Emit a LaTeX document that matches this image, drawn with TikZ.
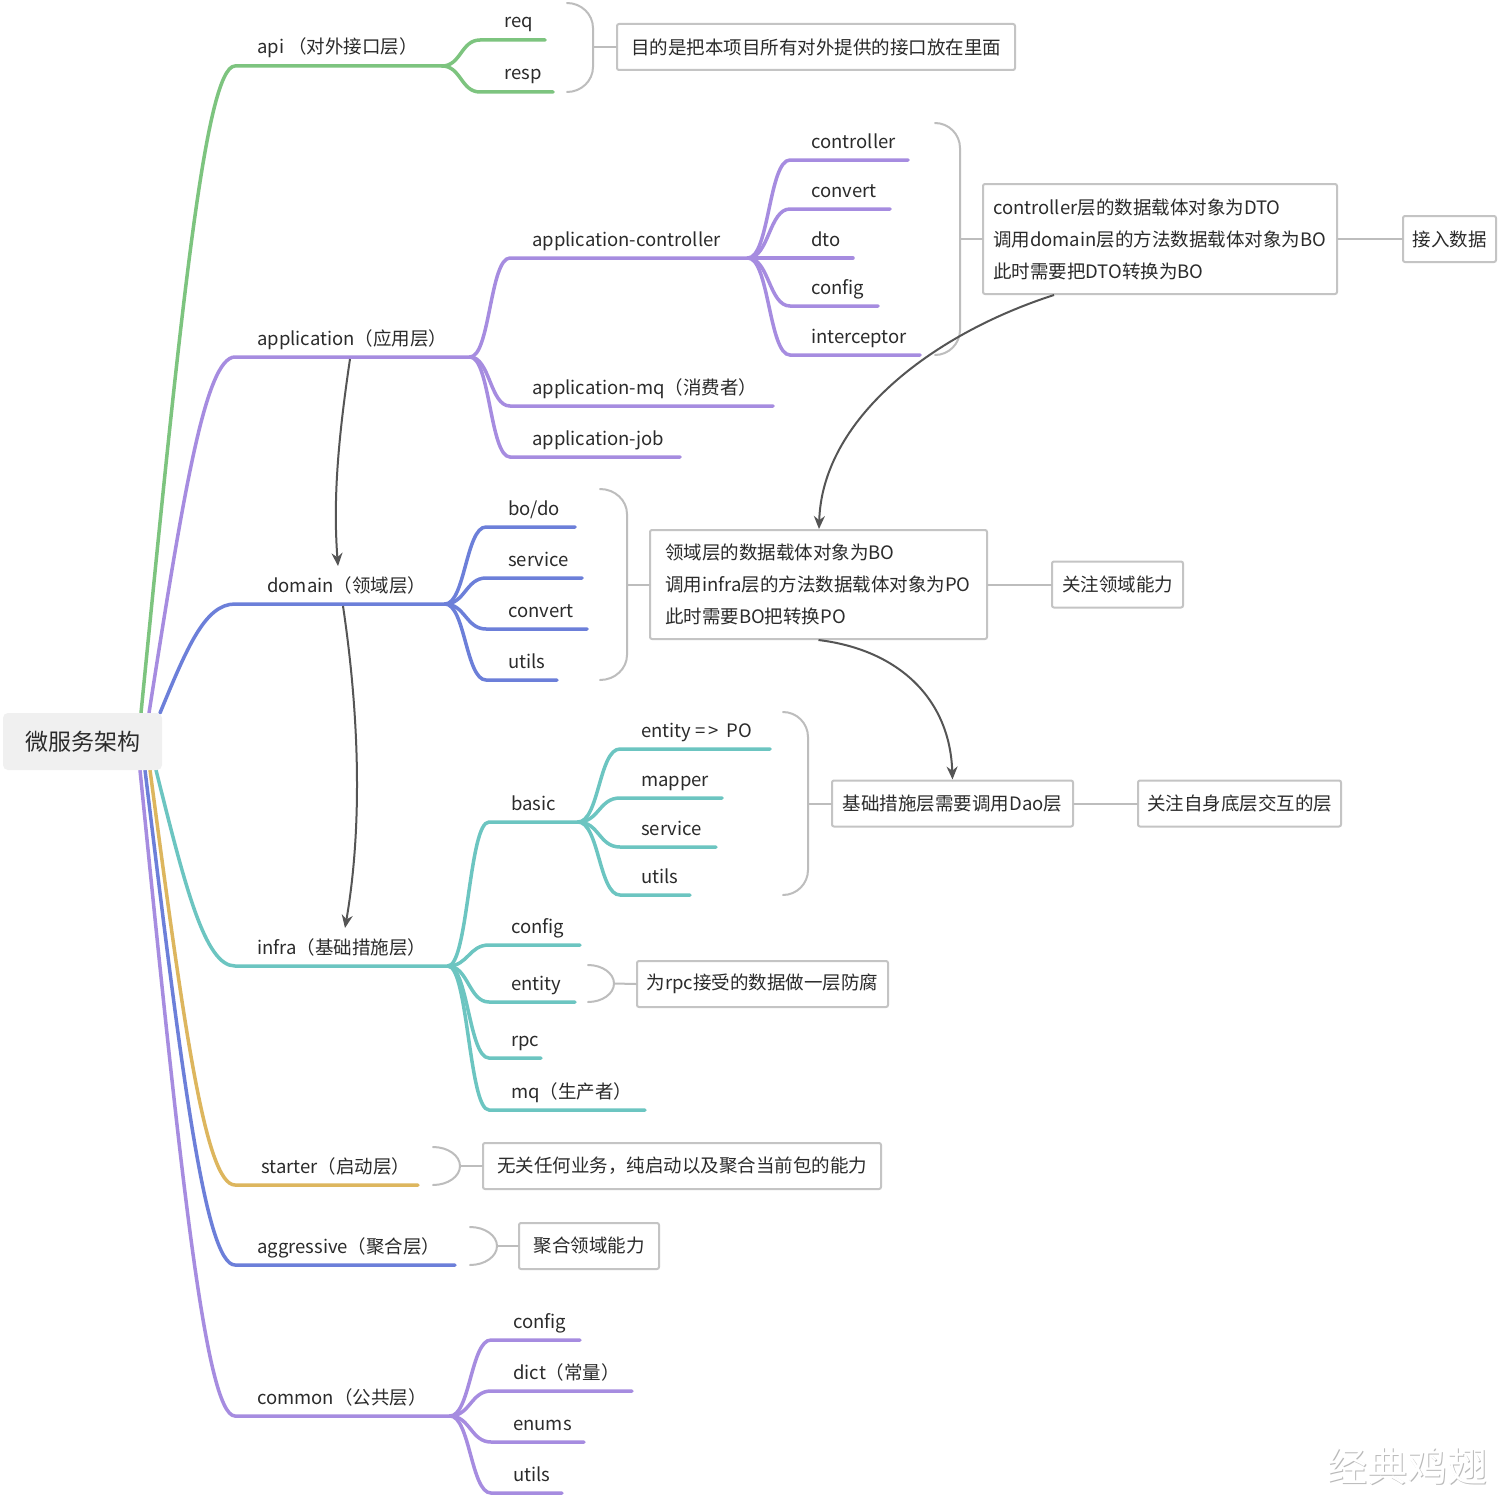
\documentclass[tikz,border=0pt]{standalone}
\usepackage{fontspec}
\setmainfont{Noto Sans CJK SC}
\usetikzlibrary{arrows.meta,calc}

\definecolor{cgreen}{HTML}{7DC47F}
\definecolor{cpurple}{HTML}{A68CE0}
\definecolor{cblue}{HTML}{6C7FD9}
\definecolor{cteal}{HTML}{6CC5C1}
\definecolor{cgold}{HTML}{DDB65E}
\definecolor{txt}{HTML}{2B2B2B}
\definecolor{boxc}{HTML}{C4C4C4}
\definecolor{bracec}{HTML}{BDBDBD}
\definecolor{arrowc}{HTML}{555555}
\definecolor{rootfill}{HTML}{F0F0F0}

\tikzset{
  lbl/.style={anchor=base west, inner sep=0pt, text=txt, font=\fontsize{18.5}{22}\selectfont},
  br/.style={line width=3.5pt, line cap=round},
  gl/.style={draw=bracec, line width=2pt, line cap=round},
  note/.style={draw=boxc, line width=2pt, rounded corners=2pt, fill=white, text=txt,
    font=\fontsize{18.5}{32}\selectfont, inner sep=0pt, minimum height=46pt},
  rel/.style={draw=arrowc, line width=2pt, -{Stealth[length=13pt,width=11pt]}},
  rootbox/.style={fill=rootfill, rounded corners=5pt, minimum width=159pt, minimum height=57pt,
    text=txt, font=\fontsize{23}{26}\selectfont, inner sep=0pt},
}

% first-level branch: colour, start coordinate, underline y, underline end x, name, label x, text
\newcommand\mmtop[7]{%
  \coordinate (#5-s) at (235,#3);
  \coordinate (#5-e) at (#4,#3);
  \node[lbl] (#5) at (#6,#3-12) {#7};
  \draw[br,#1] (#2) .. controls ($(#2)!0.6!(205,#3)$) and (205,#3) .. (#5-s) -- (#5-e);
}
% sub branch: colour, parent coordinate, curve end x, y, underline end x, name, label x, text, control dx
\newcommand\mmsub[9]{%
  \coordinate (#6-s) at (#3,#4);
  \coordinate (#6-e) at (#5,#4);
  \node[lbl] (#6) at (#7,#4-12) {#8};
  \draw[br,#1] (#2) .. controls +(#9,0) and +(-#9,0) .. (#6-s) -- (#6-e);
}
% grouping brace: x0, x1, top y, bottom y, corner radius
\newcommand\mmbrace[5]{%
  \draw[gl] (#1,#3) .. controls ({#1+0.55*(#2-#1)},#3) and (#2,{#3+0.45*#5}) .. (#2,#3+#5)
    -- (#2,#4-#5) .. controls (#2,{#4-0.45*#5}) and ({#1+0.55*(#2-#1)},#4) .. (#1,#4);
}

\begin{document}
\begin{tikzpicture}[x=1pt,y=-1pt]
\useasboundingbox (0,0) rectangle (1500,1496);
\fill[white] (0,0) rectangle (1500,1496);

% ---- main branches ----
\coordinate (r-api) at (141,713);
\coordinate (r-app) at (149,713);
\coordinate (r-dom) at (160,713);
\coordinate (r-inf) at (156,770);
\coordinate (r-sta) at (150,770);
\coordinate (r-agg) at (145,770);
\coordinate (r-com) at (140,770);

\mmtop{cgreen}{r-api}{66}{442}{api}{257}{api （对外接口层）}
\mmtop{cpurple}{r-app}{357}{470}{app}{257}{application（应用层）}
\mmtop{cblue}{r-dom}{604}{445}{dom}{267}{domain（领域层）}
\mmtop{cteal}{r-inf}{966}{448}{inf}{257}{infra（基础措施层）}
\mmtop{cgold}{r-sta}{1185}{418}{sta}{261}{starter（启动层）}
\mmtop{cblue}{r-agg}{1265}{455}{agg}{257}{aggressive（聚合层）}
\mmtop{cpurple}{r-com}{1416}{450}{com}{257}{common（公共层）}

\node[rootbox] (root) at (82.5,741.5) {微服务架构};

% ---- api ----
\mmsub{cgreen}{api-e}{480}{40}{545}{req}{504}{req}{19}
\mmsub{cgreen}{api-e}{480}{92}{553}{resp}{504}{resp}{19}
\mmbrace{567}{593}{3}{92}{25}
\node[note, minimum width=398pt] (nApi) at (816,47) {目的是把本项目所有对外提供的接口放在里面};
\coordinate (tApi) at (593,47);
\draw[gl] (tApi) -- (nApi.west);

% ---- application ----
\mmsub{cpurple}{app-e}{510}{258}{748}{actl}{532}{application-controller}{20}
\mmsub{cpurple}{app-e}{510}{406}{773}{amq}{532}{application-mq（消费者）}{20}
\mmsub{cpurple}{app-e}{510}{457}{680}{ajob}{532}{application-job}{20}

\mmsub{cpurple}{actl-e}{790}{160}{908}{ctrl}{811}{controller}{21}
\mmsub{cpurple}{actl-e}{790}{209}{890}{cconv}{811}{convert}{21}
\mmsub{cpurple}{actl-e}{790}{258}{853}{cdto}{811}{dto}{21}
\mmsub{cpurple}{actl-e}{790}{306}{878}{ccfg}{811}{config}{21}
\mmsub{cpurple}{actl-e}{790}{355}{920}{cint}{811}{interceptor}{21}
\mmbrace{935}{960}{123}{355}{25}
\node[note, minimum width=354pt, minimum height=110pt, text width=334pt, inner xsep=10pt, align=left]
  (nCtl) at (1160,239) {controller层的数据载体对象为DTO\\调用domain层的方法数据载体对象为BO\\此时需要把DTO转换为BO};
\coordinate (tCtl) at (960,239);
\draw[gl] (tCtl) -- (nCtl.west);
\node[note, minimum width=93pt] (nIn) at (1449.5,239) {接入数据};
\draw[gl] (nCtl.east) -- (nIn.west);

% ---- domain ----
\mmsub{cblue}{dom-e}{486}{527}{575}{dbo}{508}{bo/do}{20}
\mmsub{cblue}{dom-e}{486}{578}{582}{dsrv}{508}{service}{20}
\mmsub{cblue}{dom-e}{486}{629}{587}{dconv}{508}{convert}{20}
\mmsub{cblue}{dom-e}{486}{680}{557}{dutil}{508}{utils}{20}
\mmbrace{600}{627}{489}{680}{25}
\node[note, minimum width=337pt, minimum height=109pt, text width=307pt, inner xsep=15pt, align=left]
  (nDom) at (818.5,584.5) {领域层的数据载体对象为BO\\调用infra层的方法数据载体对象为PO\\此时需要BO把转换PO};
\coordinate (tDom) at (627,584.5);
\draw[gl] (tDom) -- (nDom.west);
\node[note, minimum width=131pt] (nDomF) at (1117.5,584.5) {关注领域能力};
\draw[gl] (nDom.east) -- (nDomF.west);

% ---- infra ----
\mmsub{cteal}{inf-e}{489}{822}{578}{basic}{511}{basic}{20}
\mmsub{cteal}{inf-e}{489}{945}{580}{icfg}{511}{config}{20}
\mmsub{cteal}{inf-e}{489}{1002}{575}{ient}{511}{entity}{20}
\mmsub{cteal}{inf-e}{489}{1058}{541}{irpc}{511}{rpc}{20}
\mmsub{cteal}{inf-e}{489}{1110}{645}{imq}{511}{mq（生产者）}{20}

\mmsub{cteal}{basic-e}{620}{749}{770}{bent}{641}{entity =\,>\, PO}{21}
\mmsub{cteal}{basic-e}{620}{798}{722}{bmap}{641}{mapper}{21}
\mmsub{cteal}{basic-e}{620}{847}{716}{bsrv}{641}{service}{21}
\mmsub{cteal}{basic-e}{620}{895}{690}{butil}{641}{utils}{21}
\mmbrace{783}{808}{712}{895}{25}
\node[note, minimum width=241pt] (nBas) at (952.5,803.5) {基础措施层需要调用Dao层};
\coordinate (tBas) at (808,803.5);
\draw[gl] (tBas) -- (nBas.west);
\node[note, minimum width=203pt] (nBasF) at (1239.5,803.5) {关注自身底层交互的层};
\draw[gl] (nBas.east) -- (nBasF.west);

\mmbrace{588}{614}{965}{1002}{18.5}
\node[note, minimum width=251pt] (nEnt) at (762.5,984) {为rpc接受的数据做一层防腐};
\coordinate (tEnt) at (614,983.5);
\draw[gl] (tEnt) -- (nEnt.west);

% ---- starter / aggressive ----
\mmbrace{433}{460}{1147}{1185}{19}
\node[note, minimum width=398pt] (nSta) at (682,1166) {无关任何业务，纯启动以及聚合当前包的能力};
\coordinate (tSta) at (460,1166);
\draw[gl] (tSta) -- (nSta.west);

\mmbrace{470}{497}{1227}{1265}{19}
\node[note, minimum width=140pt] (nAgg) at (589,1246) {聚合领域能力};
\coordinate (tAgg) at (497,1246);
\draw[gl] (tAgg) -- (nAgg.west);

% ---- common ----
\mmsub{cpurple}{com-e}{491}{1340}{580}{mcfg}{513}{config}{20}
\mmsub{cpurple}{com-e}{491}{1391}{632}{mdict}{513}{dict（常量）}{20}
\mmsub{cpurple}{com-e}{491}{1442}{584}{menum}{513}{enums}{20}
\mmsub{cpurple}{com-e}{491}{1493}{562}{mutil}{513}{utils}{20}

% ---- dependency arrows ----
\coordinate (a1s) at (350,359);
\coordinate (a1e) at (338,566);
\draw[rel] (a1s) .. controls (338,440) and (333,500) .. (a1e);
\coordinate (a2s) at (343,606);
\coordinate (a2e) at (345,928);
\draw[rel] (a2s) .. controls (360,720) and (362,830) .. (a2e);
\coordinate (a3s) at ($(nCtl.south west)+(72,0)$);
\coordinate (a3e) at ($(nDom.north west)+(170,0)$);
\draw[rel] (a3s) .. controls (930,335) and (822,420) .. (a3e);
\draw[rel] (nDom.south) .. controls (900,650) and (950,700) .. (nBas.north);

% ---- signature ----
\node[font=\fontsize{40}{40}\selectfont, text=gray!55] (wmS) at (1408.3,1467.3) {经典鸡翅};
\node[font=\fontsize{40}{40}\selectfont, text=white] (wm) at (1407,1466) {经典鸡翅};
\end{tikzpicture}
\end{document}
